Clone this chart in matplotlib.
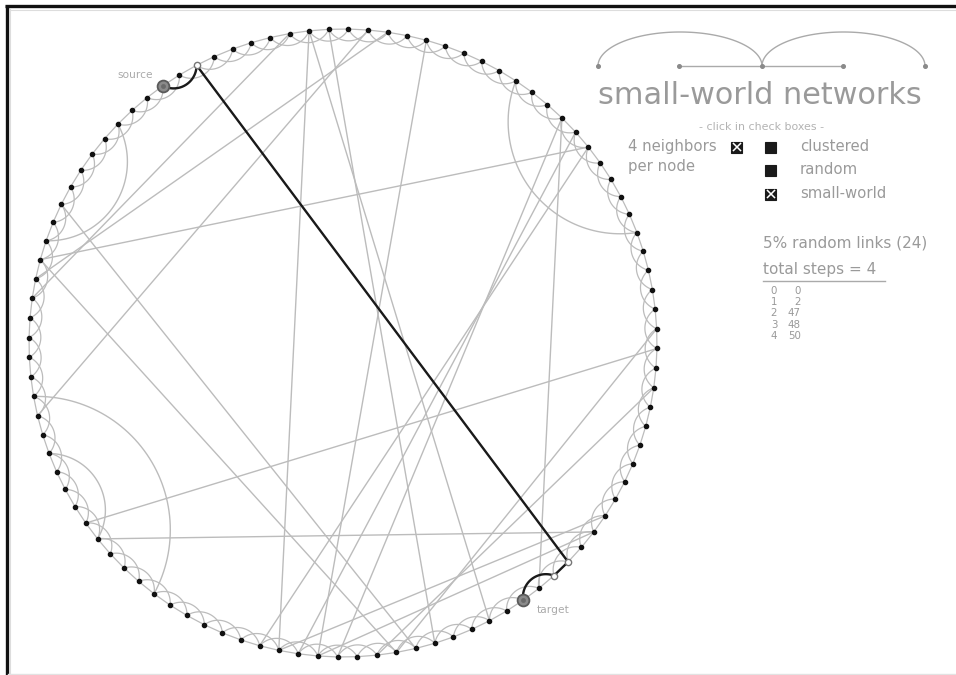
import numpy as np
import matplotlib
matplotlib.use('Agg')
import matplotlib.pyplot as plt
from matplotlib.patches import Rectangle

# ---------------- data ----------------
n_nodes = 100
neighbors = 4
random_links = [(2, 47), (24, 89), (22, 60), (23, 62), (22, 49), (35, 75),
                (45, 74), (8, 63), (8, 52), (11, 81), (12, 88), (14, 61),
                (89, 57), (92, 56), (19, 29), (82, 70), (61, 45), (63, 44),
                (57, 34), (37, 58), (7, 87), (9, 55), (64, 24), (97, 90),
                (79, 74)]
path_nodes = [0, 2, 47, 48, 50]
path_steps = [0, 1, 2, 3, 4]
pct_random = 5
n_random = 24
checkbox_labels = ['clustered', 'random', 'small-world']
checkbox_state = [False, False, True]
title = 'small-world networks'

# ---------------- layout ----------------
W, H = 956, 675
fig = plt.figure(figsize=(W / 100, H / 100), dpi=100)
ax = fig.add_axes([0, 0, 1, 1])
ax.set_xlim(0, W)
ax.set_ylim(H, 0)
ax.axis('off')

CX, CY, R = 343.0, 343.0, 314.0
A0 = 125.0
GRAY = '#bcbcbc'
TXT = '#9a9a9a'


def pos(i):
    a = np.radians(A0 - 360.0 * i / n_nodes)
    return np.array([CX + R * np.cos(a), CY - R * np.sin(a)])


def arc_pts(p, q, ang=120.0):
    c = np.linalg.norm(q - p)
    m = (p + q) / 2
    d = (q - p) / c
    nrm = np.array([-d[1], d[0]])
    if np.dot(np.array([CX, CY]) - m, nrm) < 0:
        nrm = -nrm
    phi = np.radians(ang)
    r = c / (2 * np.sin(phi / 2))
    ctr = m - nrm * r * np.cos(phi / 2)
    a1 = np.arctan2(p[1] - ctr[1], p[0] - ctr[0])
    a2 = np.arctan2(q[1] - ctr[1], q[0] - ctr[0])
    da = (a2 - a1 + np.pi) % (2 * np.pi) - np.pi
    t = np.linspace(a1, a1 + da, 60)
    return ctr[0] + r * np.cos(t), ctr[1] + r * np.sin(t)


def span(i, j):
    s = abs(i - j) % n_nodes
    return min(s, n_nodes - s)


def link_xy(i, j):
    p, q = pos(i), pos(j)
    s = span(i, j)
    if s == 1:
        return [p[0], q[0]], [p[1], q[1]]
    if s <= 12:
        return arc_pts(p, q, 118.0 if s == 2 else 120.0)
    return [p[0], q[0]], [p[1], q[1]]


# lattice links
for i in range(n_nodes):
    for k in range(1, neighbors // 2 + 1):
        x, y = link_xy(i, (i + k) % n_nodes)
        ax.plot(x, y, color=GRAY, lw=0.9, solid_capstyle='round', zorder=1)

# random links
for (i, j) in random_links:
    x, y = link_xy(i, j)
    ax.plot(x, y, color=GRAY, lw=1.0, zorder=1)

# path
for a, b in zip(path_nodes[:-1], path_nodes[1:]):
    x, y = link_xy(a, b)
    ax.plot(x, y, color='#1a1a1a', lw=1.7, zorder=3, solid_capstyle='round')

# nodes
P = np.array([pos(i) for i in range(n_nodes)])
ax.plot(P[:, 0], P[:, 1], 'o', ms=3.0, color='#111111', zorder=4)

for idx, node in enumerate(path_nodes):
    p = pos(node)
    if idx in (0, len(path_nodes) - 1):
        ax.plot(p[0], p[1], 'o', ms=8.5, mfc='#8a8a8a', mec='#5a5a5a', mew=1.3, zorder=6)
        ax.plot(p[0], p[1], 'o', ms=3.5, mfc='#6a6a6a', mec='none', zorder=7)
    else:
        ax.plot(p[0], p[1], 'o', ms=4.5, mfc='white', mec='#777777', mew=1.0, zorder=6)

ps, pt = pos(path_nodes[0]), pos(path_nodes[-1])
ax.text(ps[0] - 10, ps[1] - 11, 'source', fontsize=7.7, color='#aaaaaa', ha='right', va='center')
ax.text(pt[0] + 14, pt[1] + 10, 'target', fontsize=7.7, color='#aaaaaa', ha='left', va='center')

# ---------------- right panel ----------------
dx = [598, 679, 762, 843, 925]
dy = 66
ax.plot([dx[1], dx[3]], [dy, dy], color='#aaaaaa', lw=1.0)
for a, b in [(dx[0], dx[2]), (dx[2], dx[4])]:
    t = np.linspace(np.pi, 0, 80)
    ax.plot((a + b) / 2 + (b - a) / 2 * np.cos(t), dy - 34 * np.sin(t), color='#aaaaaa', lw=1.0)
ax.plot(dx, [dy] * 5, 'o', ms=2.6, color='#8a8a8a')

ax.text(760, 104, title, fontsize=21.8, color=TXT, ha='center', va='baseline')
ax.text(762, 130, '- click in check boxes -', fontsize=7.9, color='#b3b3b3', ha='center', va='baseline')

ax.text(628, 151, f'{neighbors} neighbors', fontsize=10.7, color=TXT, ha='left', va='baseline')
ax.text(628, 171, 'per node', fontsize=10.7, color=TXT, ha='left', va='baseline')


def box(x, y, checked):
    ax.add_patch(Rectangle((x - 5.5, y - 5.5), 11, 11, fc='#1a1a1a', ec='#1a1a1a', lw=0.8, zorder=5))
    if checked:
        ax.plot([x - 3.5, x + 3.5], [y - 3.5, y + 3.5], color='white', lw=1.1, zorder=6)
        ax.plot([x - 3.5, x + 3.5], [y + 3.5, y - 3.5], color='white', lw=1.1, zorder=6)


box(737, 147, True)
for k, (lab, st) in enumerate(zip(checkbox_labels, checkbox_state)):
    yy = 147 + 23.5 * k
    box(771, yy, st)
    ax.text(800, yy + 4, lab, fontsize=10.7, color=TXT, ha='left', va='baseline')

ax.text(763, 247, f'{pct_random}% random links ({n_random})', fontsize=11, color=TXT, ha='left', va='baseline')
ax.text(763, 274, f'total steps = {len(path_nodes) - 1}', fontsize=11, color=TXT, ha='left', va='baseline')
ax.plot([763, 885], [281, 281], color='#aaaaaa', lw=1.0)
for k, (s, node) in enumerate(zip(path_steps, path_nodes)):
    yy = 294 + 11.2 * k
    ax.text(774, yy, str(s), fontsize=7.4, color='#999999', ha='center', va='baseline')
    ax.text(801, yy, str(node), fontsize=7.4, color='#999999', ha='right', va='baseline')

# frame
ax.plot([5, W], [6, 6], color='#111111', lw=2.4, solid_capstyle='butt')
ax.plot([7, 7], [5, H], color='#111111', lw=2.4, solid_capstyle='butt')
ax.plot([10, W], [9.5, 9.5], color='#dddddd', lw=0.8)
ax.plot([10, 10], [9, H], color='#dddddd', lw=0.8)
ax.plot([8, W], [673.5, 673.5], color='#e2e2e2', lw=1.0)

fig.savefig('out.png', dpi=100, facecolor='white')
